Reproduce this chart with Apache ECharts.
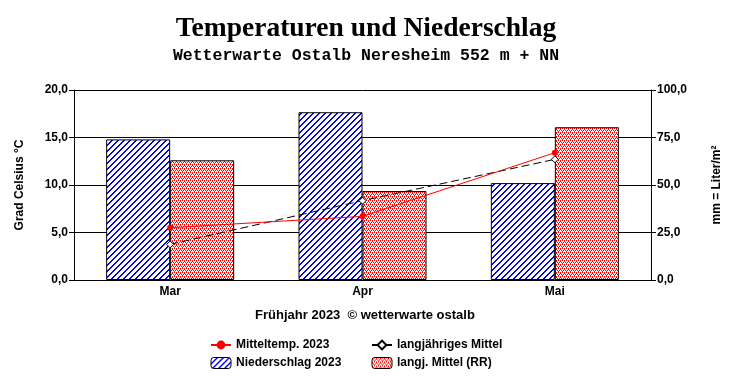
<!DOCTYPE html>
<html><head><meta charset="utf-8">
<script src="https://cdn.jsdelivr.net/npm/echarts@6/dist/echarts.min.js"></script>
<style>html,body{margin:0;padding:0;background:#fff}#c{width:732px;height:384px}</style>
</head><body><div id="c"></div>
<script>
var categories = ['Mar', 'Apr', 'Mai'];
var niederschlag2023 = [74.0, 88.3, 51.0];
var niederschlagMittel = [63.0, 46.8, 80.4];
var mitteltemp2023 = [5.5, 6.7, 13.4];
var tempMittel = [3.75, 8.35, 12.7];
var leftTicks = {min: 0, max: 20, interval: 5};
var rightTicks = {min: 0, max: 100, interval: 25};

function makeHatch() {
  var c = document.createElement('canvas');
  c.width = 6; c.height = 6;
  var ctx = c.getContext('2d');
  ctx.fillStyle = '#fff'; ctx.fillRect(0, 0, 6, 6);
  ctx.fillStyle = '#0000ff';
  for (var y = 0; y < 6; y++) {
    var x = (5 - y + 6) % 6;
    ctx.fillRect(x, y, 1, 1);
    ctx.fillRect((x + 1) % 6, y, 1, 1);
  }
  return c;
}
function makeDots() {
  var c = document.createElement('canvas');
  c.width = 4; c.height = 4;
  var ctx = c.getContext('2d');
  ctx.fillStyle = '#fff'; ctx.fillRect(0, 0, 4, 4);
  ctx.fillStyle = '#ff0000';
  ctx.fillRect(0, 0, 1, 1); ctx.fillRect(2, 0, 1, 1);
  ctx.fillRect(1, 2, 1, 1); ctx.fillRect(3, 2, 1, 1);
  ctx.fillRect(0, 1, 1, 1); ctx.fillRect(2, 3, 1, 1);
  return c;
}
var hatch = {image: makeHatch(), repeat: 'repeat'};
var dots = {image: makeDots(), repeat: 'repeat'};

var fmt = function (v) { return v.toFixed(1).replace('.', ','); };
var lbl = {fontFamily: 'Liberation Sans', fontWeight: 'bold', fontSize: 12, color: '#000'};

var chart = echarts.init(document.getElementById('c'), null, {renderer: 'canvas'});
chart.setOption({
  animation: false,
  backgroundColor: '#fff',
  title: [
    {text: 'Temperaturen und Niederschlag', left: 'center', top: 10,
     textStyle: {fontFamily: 'Liberation Serif', fontWeight: 'bold', fontSize: 27.5, color: '#000'}},
    {text: 'Wetterwarte Ostalb Neresheim 552 m + NN', left: 'center', top: 42,
     textStyle: {fontFamily: 'Liberation Mono', fontWeight: 'bold', fontSize: 16.5, color: '#000'}},
    {text: 'Frühjahr 2023  © wetterwarte ostalb', left: 360, textAlign: 'center', top: 304,
     textStyle: {fontFamily: 'Liberation Sans', fontWeight: 'bold', fontSize: 13, color: '#000'}}
  ],
  legend: [
    {orient: 'vertical', left: 205, top: 334, itemWidth: 20, itemHeight: 11, itemGap: 6,
     data: [{name: 'Mitteltemp. 2023'}, {name: 'Niederschlag 2023', itemStyle: {color: hatch, borderColor: '#000', borderWidth: 1}}],
     textStyle: lbl, selectedMode: false},
    {orient: 'vertical', left: 366, top: 334, itemWidth: 20, itemHeight: 11, itemGap: 6,
     data: [{name: 'langjähriges Mittel'}, {name: 'langj. Mittel (RR)', itemStyle: {color: dots, borderColor: '#000', borderWidth: 1, decal: 'none'}}],
     textStyle: lbl, selectedMode: false}
  ],
  grid: {left: 74, right: 81, top: 90, bottom: 104},
  xAxis: {
    type: 'category', data: categories,
    axisLine: {lineStyle: {color: '#000', width: 1}},
    axisTick: {inside: true, length: 5, lineStyle: {color: '#000'}},
    axisLabel: Object.assign({margin: 6}, lbl)
  },
  yAxis: [
    {type: 'value', min: leftTicks.min, max: leftTicks.max, interval: leftTicks.interval,
     name: 'Grad Celsius °C', nameLocation: 'middle', nameRotate: 90, nameGap: 48,
     nameTextStyle: lbl,
     axisLine: {show: true, lineStyle: {color: '#000'}},
     axisTick: {show: true, length: 5, lineStyle: {color: '#000'}},
     axisLabel: Object.assign({formatter: fmt, margin: 6}, lbl),
     splitLine: {show: true, lineStyle: {color: '#000', width: 1}}},
    {type: 'value', min: rightTicks.min, max: rightTicks.max, interval: rightTicks.interval,
     position: 'right',
     name: 'mm = Liter/m²', nameLocation: 'middle', nameRotate: 90, nameGap: 60,
     nameTextStyle: lbl,
     axisLine: {show: true, lineStyle: {color: '#000'}},
     axisTick: {show: true, length: 5, lineStyle: {color: '#000'}},
     axisLabel: Object.assign({formatter: fmt, margin: 6}, lbl),
     splitLine: {show: false}}
  ],
  series: [
    {name: 'Niederschlag 2023', type: 'bar', yAxisIndex: 1, data: niederschlag2023,
     barWidth: 64, barGap: '0%', z: 2,
     itemStyle: {color: hatch, borderColor: '#000', borderWidth: 1}},
    {name: 'langj. Mittel (RR)', type: 'bar', yAxisIndex: 1, data: niederschlagMittel,
     barWidth: 64, barGap: '0%', z: 2,
     itemStyle: {color: dots, borderColor: '#000', borderWidth: 1}},
    {name: 'Mitteltemp. 2023', type: 'line', yAxisIndex: 0, data: mitteltemp2023, z: 5,
     symbol: 'circle', symbolSize: 6, showAllSymbol: true,
     lineStyle: {color: '#ff0000', width: 1},
     itemStyle: {color: '#ff0000', borderColor: '#ff0000', borderWidth: 0}},
    {name: 'langjähriges Mittel', type: 'line', yAxisIndex: 0, data: tempMittel, z: 4,
     symbol: 'diamond', symbolSize: 7, showAllSymbol: true,
     lineStyle: {color: '#000', width: 1, type: [8, 4]},
     itemStyle: {color: '#fff', borderColor: '#000', borderWidth: 1}}
  ]
});
</script></body></html>
